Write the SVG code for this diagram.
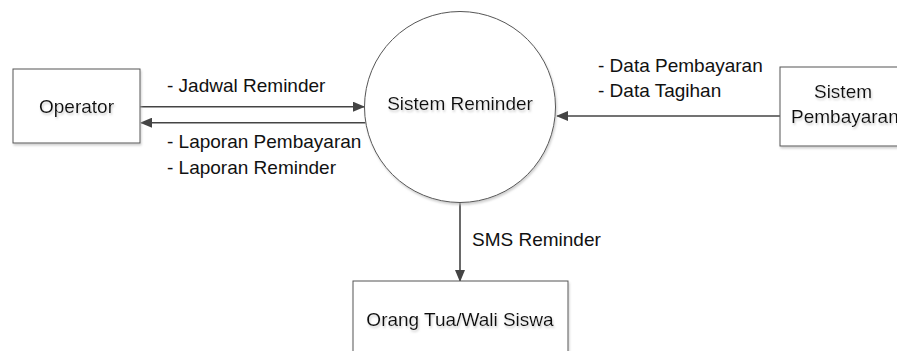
<svg xmlns="http://www.w3.org/2000/svg" width="897" height="351" viewBox="0 0 897 351">
<defs>
<style>
.t{font-family:"Liberation Sans",Arial,sans-serif;font-size:19px;fill:#111;}
.node{fill:#fff;stroke:#555;stroke-width:1;}
.c{stroke:#444;stroke-width:1.6;fill:none;marker-end:url(#ah);}
</style>
<marker id="ah" markerWidth="12" markerHeight="10" refX="11" refY="5" orient="auto" markerUnits="userSpaceOnUse">
<path d="M0,0 L12,5 L0,10 Z" fill="#444"/>
</marker>
<filter id="sh" x="-10%" y="-10%" width="130%" height="140%">
<feDropShadow dx="1" dy="2" stdDeviation="0.8" flood-color="#bbb" flood-opacity="0.7"/>
</filter>
</defs>
<rect width="897" height="351" fill="#fff"/>
<g id="connectors">
<line class="c" x1="140" y1="106.7" x2="364" y2="106.7"/>
<line class="c" x1="365.5" y1="122.7" x2="141" y2="122.7"/>
<line class="c" x1="780" y1="116" x2="557" y2="116"/>
<line class="c" x1="460" y1="202" x2="460" y2="281"/>
</g>
<g id="operator">
<rect class="node" x="13" y="69" width="127" height="74" filter="url(#sh)"/>
<text class="t" x="76.5" y="113" text-anchor="middle" filter="url(#sh)">Operator</text>
</g>
<g id="sistem-reminder">
<circle class="node" cx="460" cy="107" r="95.5" filter="url(#sh)"/>
<text class="t" x="460" y="110" text-anchor="middle" filter="url(#sh)">Sistem Reminder</text>
</g>
<g id="sistem-pembayaran">
<rect class="node" x="780" y="67" width="130" height="79" filter="url(#sh)"/>
<text class="t" x="843" y="98" text-anchor="middle" filter="url(#sh)">Sistem</text>
<text class="t" x="791" y="123" filter="url(#sh)">Pembayaran</text>
</g>
<g id="orang-tua">
<rect class="node" x="353" y="281" width="215" height="90" filter="url(#sh)"/>
<text class="t" x="460" y="326" text-anchor="middle" filter="url(#sh)">Orang Tua/Wali Siswa</text>
</g>
<g id="labels">
<text class="t" x="167" y="92">- Jadwal Reminder</text>
<text class="t" x="167" y="148">- Laporan Pembayaran</text>
<text class="t" x="167" y="174">- Laporan Reminder</text>
<text class="t" x="598" y="72">- Data Pembayaran</text>
<text class="t" x="598" y="97">- Data Tagihan</text>
<text class="t" x="472" y="246">SMS Reminder</text>
</g>
</svg>
